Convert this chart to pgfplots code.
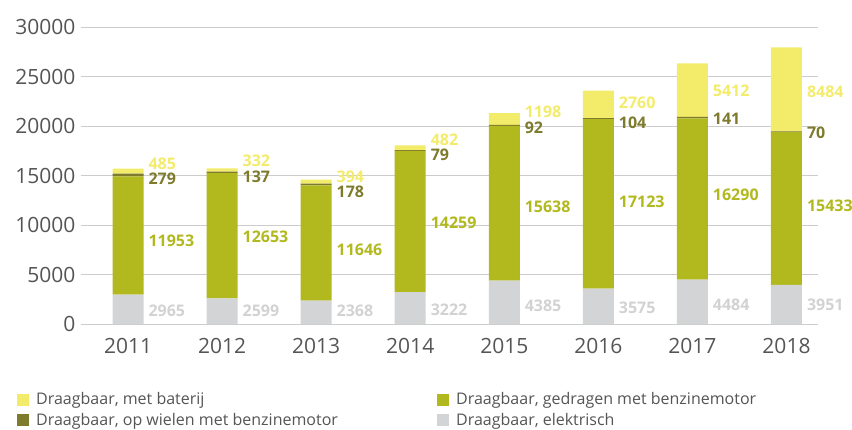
\documentclass[border=0pt]{standalone}
\usepackage{fontspec}
\setmainfont{Open Sans}
\usepackage{pgfplots}
\pgfplotsset{compat=1.18}
\definecolor{batc}{HTML}{F3EB6A}
\definecolor{gedc}{HTML}{B1B91F}
\definecolor{wielc}{HTML}{7E7B2D}
\definecolor{elekc}{HTML}{D3D4D6}
\definecolor{elektxt}{HTML}{D2D2D2}
\definecolor{tickgray}{HTML}{555555}
\definecolor{gridc}{HTML}{CCCCCC}

\pgfplotstableread{
x y l
0 16161 485
1 16464 332
2 14847 394
3 18584 482
4 21450 1198
5 22323 2760
6 23535 5412
7 23434 8484
}\batlab
\pgfplotstableread{
x y l
0 14647 279
1 14849 137
2 13334 178
3 17072 79
4 19798 92
5 20303 104
6 20707 141
7 19293 70
}\wiellab
\pgfplotstableread{
x y l
0 8384 11953
1 8788 12653
2 7475 11646
3 10202 14259
4 11818 15638
5 12323 17123
6 13030 16290
7 11919 15433
}\gedlab
\pgfplotstableread{
x y l
0 1350 2965
1 1300 2599
2 1350 2368
3 1450 3222
4 1800 4385
5 1600 3575
6 1950 4484
7 1900 3951
}\eleklab

\pgfplotsset{
  base/.style={
    at={(81pt,105pt)}, anchor=south west,
    scale only axis, width=737pt, height=297pt,
    xmin=-0.5, xmax=7.335, ymin=0, ymax=30000,
  },
}

\begin{document}
\begin{tikzpicture}
\path[use as bounding box] (0,0) rectangle (852pt,429pt);
\begin{axis}[base,
    ybar stacked, bar width=31pt,
    axis x line*=bottom, axis y line*=left,
    x axis line style={gridc, line width=0.8pt, -},
    y axis line style={draw=none},
    ymajorgrids, grid style={gridc, line width=0.8pt},
    ytick={0,5000,...,30000},
    scaled y ticks=false,
    xtick={0,...,7},
    xticklabels={2011,2012,2013,2014,2015,2016,2017,2018},
    major tick length=0pt,
    tick label style={font=\fontsize{21}{21}\selectfont, text=tickgray},
    /pgf/number format/assume math mode=true,
    /pgf/number format/1000 sep={},
    yticklabel style={xshift=-2pt},
    xticklabel style={yshift=-11pt},
]
\addplot[fill=elekc, draw=none] coordinates {(0,2965) (1,2599) (2,2368) (3,3222) (4,4385) (5,3575) (6,4484) (7,3951)};
\addplot[fill=gedc, draw=none] coordinates {(0,11953) (1,12653) (2,11646) (3,14259) (4,15638) (5,17123) (6,16290) (7,15433)};
\addplot[fill=wielc, draw=none] coordinates {(0,279) (1,137) (2,178) (3,79) (4,92) (5,104) (6,141) (7,70)};
\addplot[fill=batc, draw=none] coordinates {(0,485) (1,332) (2,394) (3,482) (4,1198) (5,2760) (6,5412) (7,8484)};
\end{axis}

\begin{axis}[base, hide axis,
    every node near coord/.append style={anchor=west, xshift=17pt,
      font=\bfseries\fontsize{16}{16}\selectfont},
    legend style={at={(-0.0868,-0.231)}, anchor=north west, draw=none,
      inner sep=0pt, nodes={inner sep=0pt},
      font=\fontsize{16}{16}\selectfont, text=tickgray,
      legend columns=2, row sep=7pt, legend cell align=left,
      /tikz/every odd column/.append style={column sep=7pt}},
    legend image code/.code={\fill[#1] (0pt,-6pt) rectangle (12pt,6pt);},
]
\addlegendimage{fill=batc, draw=none}
\addlegendentry{\makebox[401pt][l]{Draagbaar, met baterij}}
\addlegendimage{fill=gedc, draw=none}
\addlegendentry{Draagbaar, gedragen met benzinemotor}
\addlegendimage{fill=wielc, draw=none}
\addlegendentry{\makebox[401pt][l]{Draagbaar, op wielen met benzinemotor}}
\addlegendimage{fill=elekc, draw=none}
\addlegendentry{Draagbaar, elektrisch}
\addplot[draw=none, forget plot, nodes near coords, point meta=explicit symbolic,
  every node near coord/.append style={text=batc}] table[meta=l] {\batlab};
\addplot[draw=none, forget plot, nodes near coords, point meta=explicit symbolic,
  every node near coord/.append style={text=wielc}] table[meta=l] {\wiellab};
\addplot[draw=none, forget plot, nodes near coords, point meta=explicit symbolic,
  every node near coord/.append style={text=gedc}] table[meta=l] {\gedlab};
\addplot[draw=none, forget plot, nodes near coords, point meta=explicit symbolic,
  every node near coord/.append style={text=elektxt}] table[meta=l] {\eleklab};
\end{axis}
\end{tikzpicture}
\end{document}
